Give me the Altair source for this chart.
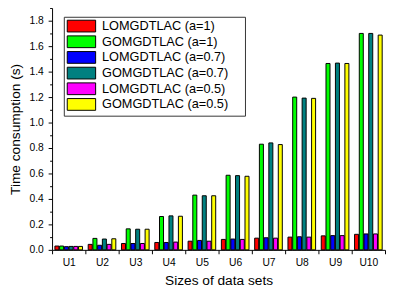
import altair as alt
import pandas as pd

categories = ["U1", "U2", "U3", "U4", "U5", "U6", "U7", "U8", "U9", "U10"]
series_names = [
    "LOMGDTLAC (a=1)",
    "GOMGDTLAC (a=1)",
    "LOMGDTLAC (a=0.7)",
    "GOMGDTLAC (a=0.7)",
    "LOMGDTLAC (a=0.5)",
    "GOMGDTLAC (a=0.5)",
]
lom_a1 = [0.030, 0.043, 0.050, 0.058, 0.068, 0.082, 0.092, 0.100, 0.110, 0.122]
gom_a1 = [0.030, 0.090, 0.165, 0.262, 0.430, 0.586, 0.830, 1.200, 1.464, 1.700]
lom_a07 = [0.025, 0.036, 0.050, 0.058, 0.074, 0.085, 0.095, 0.103, 0.112, 0.125]
gom_a07 = [0.027, 0.085, 0.162, 0.267, 0.425, 0.583, 0.840, 1.192, 1.467, 1.700]
lom_a05 = [0.027, 0.043, 0.050, 0.061, 0.068, 0.082, 0.092, 0.100, 0.112, 0.125]
gom_a05 = [0.027, 0.087, 0.162, 0.264, 0.425, 0.578, 0.827, 1.190, 1.464, 1.687]
colors = ["#ff0000", "#00ff00", "#0000ff", "#008080", "#ff00ff", "#ffff00"]
y_ticks = [0.0, 0.1, 0.2, 0.3, 0.4, 0.5, 0.6, 0.7, 0.8, 0.9,
           1.0, 1.1, 1.2, 1.3, 1.4, 1.5, 1.6, 1.7, 1.8, 1.9]

rows = []
for name, vals in zip(series_names, [lom_a1, gom_a1, lom_a07, gom_a07, lom_a05, gom_a05]):
    for c, v in zip(categories, vals):
        rows.append({"set": c, "series": name, "time": v})
df = pd.DataFrame(rows)

FONT = "Liberation Sans"
is_minor = "round(datum.value * 10) % 2 == 1"

chart = (
    alt.Chart(df)
    .mark_bar(stroke="black", strokeWidth=1, opacity=1)
    .encode(
        x=alt.X(
            "set:N",
            sort=categories,
            scale=alt.Scale(paddingInner=0, paddingOuter=0),
            axis=alt.Axis(
                title="Sizes of data sets",
                labelAngle=0,
                tickBand="extent",
                tickSize=4,
                labelPadding=4,
                titlePadding=6,
            ),
        ),
        xOffset=alt.XOffset(
            "series:N",
            sort=series_names,
            scale=alt.Scale(paddingInner=0.15, paddingOuter=0.6),
        ),
        y=alt.Y(
            "time:Q",
            scale=alt.Scale(domain=[0, 1.9], nice=False, zero=True),
            axis=alt.Axis(
                title="Time consumption (s)",
                values=y_ticks,
                labelExpr=f"{is_minor} ? '' : format(datum.value, '.1f')",
                labelOverlap=False,
                tickSize={"condition": {"test": is_minor, "value": 2.5}, "value": 4},
                labelPadding=5,
                titlePadding=7,
            ),
        ),
        color=alt.Color(
            "series:N",
            sort=series_names,
            scale=alt.Scale(domain=series_names, range=colors),
            legend=alt.Legend(
                title=None,
                orient="none",
                legendX=12,
                legendY=9,
                direction="vertical",
                symbolType="M-1,-1L3.83,-1L3.83,1L-1,1Z",
                symbolSize=144,
                symbolStrokeColor="black",
                symbolStrokeWidth=1,
                symbolOpacity=1,
                labelFontSize=13,
                labelFont=FONT,
                labelColor="black",
                labelOffset=23,
                labelLimit=0,
                labelExpr="datum.label + '\u00a0\u00a0\u00a0\u2009\u200b'",
                strokeColor="#333333",
                fillColor="white",
                padding=3,
                rowPadding=-1,
            ),
        ),
    )
    .properties(
        width=340,
        height=247,
        padding={"left": 45, "top": -3, "right": 1, "bottom": 37},
        autosize=alt.AutoSizeParams(type="none"),
    )
    .configure_view(stroke=None)
    .configure_axis(
        grid=False,
        labelFont=FONT,
        labelFontSize=10.5,
        labelColor="black",
        titleFont=FONT,
        titleFontSize=14,
        titleFontWeight="normal",
        titleColor="black",
        domainColor="black",
        tickColor="black",
        domainWidth=1,
        tickWidth=1,
    )
)

chart.save("out.html", embed_options={"renderer": "svg", "actions": False})
